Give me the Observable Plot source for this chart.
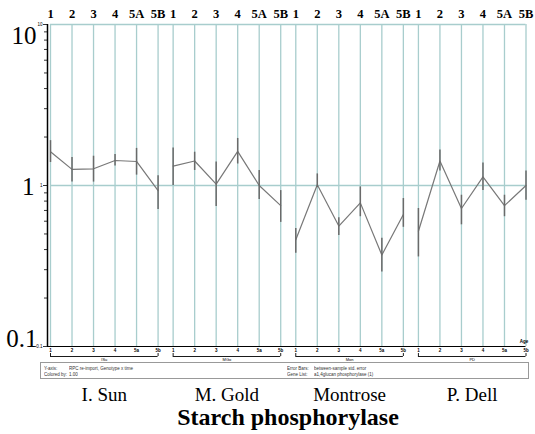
<!DOCTYPE html>
<html><head><meta charset="utf-8">
<script src="https://cdn.jsdelivr.net/npm/d3@7"></script>
<script src="https://cdn.jsdelivr.net/npm/@observablehq/plot@0.6"></script>
<style>
body{margin:0;background:#fff;width:535px;height:434px;position:relative;overflow:hidden;font-family:"Liberation Serif",serif}
#chart{position:absolute;left:0;top:0}
#legend{position:absolute;left:40px;top:362px;width:489px;height:17px;border:1px solid #999;box-sizing:border-box}
#legend span{position:absolute;font-family:"Liberation Sans",Arial,sans-serif;font-size:9px;color:#333;transform:scale(0.5);transform-origin:0 0;white-space:nowrap}
#title{position:absolute;left:50px;width:476px;top:405px;line-height:24px;text-align:center;font-weight:bold;font-size:24px;color:#000}
</style></head><body>
<div id="chart"></div>
<div id="legend">
<span style="left:3px;top:3px">Y-axis:</span><span style="left:28px;top:3px">RPC re-import, Genotype x time</span>
<span style="left:3px;top:9px">Colored by:</span><span style="left:28px;top:9px">1.00</span>
<span style="left:246px;top:3px">Error Bars:</span><span style="left:273px;top:3px">between-sample std. error</span>
<span style="left:246px;top:9px">Gene List:</span><span style="left:273px;top:9px">a1,4glucan phosphorylase (1)</span>
</div>
<div id="title">Starch phosphorylase</div>
<script>
const groups = ["I. Sun", "M. Gold", "Montrose", "P. Dell"];
const groupAbbr = ["ISu", "MGo", "Mon", "PD"];
const stages = ["1", "2", "3", "4", "5A", "5B"];
const stageTiny = ["1", "2", "3", "4", "5a", "5b"];

const sunMean  = [1.62, 1.26, 1.27, 1.43, 1.41, 0.93];
const sunLow   = [1.39, 1.05, 1.05, 1.32, 1.16, 0.71];
const sunHigh  = [1.90, 1.49, 1.52, 1.56, 1.70, 1.15];
const goldMean = [1.32, 1.42, 1.02, 1.63, 1.00, 0.75];
const goldLow  = [1.00, 1.24, 0.74, 1.36, 0.82, 0.59];
const goldHigh = [1.71, 1.61, 1.40, 1.96, 1.24, 0.93];
const montMean = [0.46, 1.01, 0.56, 0.78, 0.37, 0.66];
const montLow  = [0.38, 0.97, 0.49, 0.64, 0.29, 0.55];
const montHigh = [0.54, 1.18, 0.63, 0.98, 0.47, 0.83];
const dellMean = [0.52, 1.42, 0.72, 1.13, 0.75, 1.00];
const dellLow  = [0.36, 1.23, 0.57, 0.93, 0.64, 0.81];
const dellHigh = [0.72, 1.66, 0.87, 1.38, 0.87, 1.23];

const yMajor = [10, 1, 0.1];
const yMajorLabels = ["10", "1", "0.1"];
const yMinor = [0.2,0.3,0.4,0.5,0.6,0.7,0.8,0.9,2,3,4,5,6,7,8,9];

const means = [sunMean, goldMean, montMean, dellMean];
const lows = [sunLow, goldLow, montLow, dellLow];
const highs = [sunHigh, goldHigh, montHigh, dellHigh];
const groupGap = 0.7;
const groupSpan = stages.length - 1 + groupGap;

const rows = [];
groups.forEach((g, gi) => stages.forEach((s, si) => rows.push({
  group: g, stage: s, tiny: stageTiny[si], pos: gi * groupSpan + si,
  mean: means[gi][si], low: lows[gi][si], high: highs[gi][si]
})));
const groupRows = groups.map((g, gi) => ({
  group: g, abbr: groupAbbr[gi], start: gi * groupSpan, end: gi * groupSpan + stages.length - 1,
  center: gi * groupSpan + (stages.length - 1) / 2
}));
const ends = groupRows.flatMap(d => [d.start, d.end]);
const lastPos = rows[rows.length - 1].pos;
const majors = yMajor.map((v, i) => ({v, label: yMajorLabels[i]}));
const grid = "#a8cdcd";

const chart = Plot.plot({
  width: 535, height: 405,
  marginTop: 24, marginBottom: 59, marginLeft: 50, marginRight: 9.5,
  style: {fontFamily: "Liberation Serif", background: "white", overflow: "visible"},
  x: {type: "linear", domain: [0, lastPos], axis: null},
  y: {type: "log", domain: [0.1, 10], axis: null},
  marks: [
    Plot.ruleX(rows, {x: "pos", stroke: grid, strokeWidth: 1.3}),
    Plot.ruleY([1, 10], {stroke: grid, strokeWidth: 1.3}),
    Plot.ruleX([0], {dx: -3, stroke: "black", strokeWidth: 1.5}),
    Plot.ruleY([0.1], {stroke: "black", strokeWidth: 1.2, insetLeft: -3}),
    Plot.ruleY(yMinor, {x1: () => 0, x2: () => 0, insetLeft: -6, insetRight: 3, stroke: "black", strokeWidth: 0.8}),
    Plot.ruleY(yMajor, {x1: () => 0, x2: () => 0, insetLeft: -7, insetRight: 3, stroke: "black", strokeWidth: 0.8}),
    Plot.text(majors, {y: "v", text: "label", frameAnchor: "left", dx: -8, textAnchor: "end", fontSize: 4.5, fontFamily: "Liberation Sans"}),
    Plot.text(majors.filter(d => d.v === 10), {y: "v", text: "label", frameAnchor: "left", dx: -14, dy: 2, textAnchor: "end", lineAnchor: "top", fontSize: 25}),
    Plot.text(majors.filter(d => d.v === 1), {y: "v", text: "label", frameAnchor: "left", dx: -16, dy: 1, textAnchor: "end", lineAnchor: "middle", fontSize: 25}),
    Plot.text(majors.filter(d => d.v === 0.1), {y: "v", text: "label", frameAnchor: "left", dx: -13, textAnchor: "end", lineAnchor: "bottom", fontSize: 25}),
    Plot.line(rows, {x: "pos", y: "mean", z: "group", stroke: "#787878", strokeWidth: 1.2}),
    Plot.ruleX(rows, {x: "pos", y1: "low", y2: "high", stroke: "#6a6a6a", strokeWidth: 1.5}),
    Plot.text(rows, {x: "pos", text: "stage", frameAnchor: "top", dy: -11, lineAnchor: "middle", fontWeight: "bold", fontSize: 12.5}),
    Plot.text(rows, {x: "pos", text: "tiny", frameAnchor: "bottom", dy: 4.5, lineAnchor: "middle", fontSize: 4.5, fontWeight: "bold", fontFamily: "Liberation Sans"}),
    Plot.ruleY(groupRows, {y: () => 0.1, x1: "start", x2: "end", dy: 10, stroke: "black", strokeWidth: 0.9}),
    Plot.ruleX(ends, {x: d => d, y1: () => 0.1, y2: () => 0.1, insetBottom: -3, dy: 7, stroke: "black", strokeWidth: 0.9}),
    Plot.text(groupRows, {x: "center", text: "abbr", frameAnchor: "bottom", dy: 13, lineAnchor: "middle", fontSize: 4, fontFamily: "Liberation Sans"}),
    Plot.text([lastPos], {x: d => d, text: () => "Age", frameAnchor: "bottom", dx: -2, dy: -5, lineAnchor: "middle", fontSize: 4.5, fontWeight: "bold", fontFamily: "Liberation Sans"}),
    Plot.text(groupRows, {x: "center", text: "group", frameAnchor: "bottom", dy: 48, lineAnchor: "middle", fontSize: 19})
  ]
});
document.getElementById("chart").appendChild(chart);
</script>
</body></html>
